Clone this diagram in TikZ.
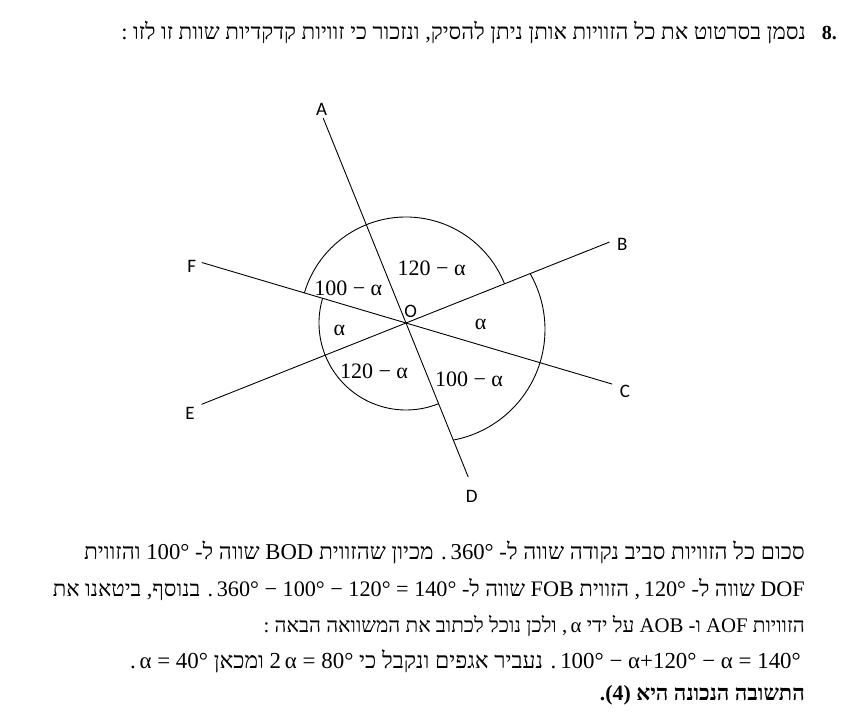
\documentclass[tikz,border=0pt]{standalone}
\usepackage{fontspec}
\usetikzlibrary{calc}
\setmainfont{Liberation Serif}
\newfontfamily\heb[Script=Hebrew]{Liberation Serif}
\newfontfamily\latf{Liberation Serif}
\newfontfamily\lblf{Carlito}
\TeXXeTstate=1
\newcommand\myL[1]{\beginL{\latf #1}\endL}
\begin{document}
\begin{tikzpicture}[x=1pt,y=1pt,
  ptlabel/.style={font=\lblf\fontsize{19}{22}\selectfont, inner sep=0pt},
  anglabel/.style={font=\latf\fontsize{22}{26}\selectfont, inner sep=0pt},
  txtline/.style={anchor=base east, inner sep=0pt},
  geomline/.style={line width=0.9pt},
  arcline/.style={line width=0.9pt}]
\useasboundingbox (0,0) rectangle (867,-712);
\fill[white] (0,0) rectangle (867,-712);

% title
\node[anchor=base east, inner sep=0pt, font=\latf\bfseries\fontsize{20}{24}\selectfont] (num) at (837,-39) {8.};
\node[txtline, font=\heb\fontsize{22.4}{26}\selectfont] (title) at (806,-39) {\beginR נסמן בסרטוט את כל הזוויות אותן ניתן להסיק, ונזכור כי זוויות קדקדיות שוות זו לזו :\endR};

% geometry
\coordinate (O) at (406,-323);
\coordinate (A) at ($(O)+(112:221)$);
\coordinate (D) at ($(O)+(-68:166)$);
\coordinate (B) at ($(O)+(21.7:219)$);
\coordinate (E) at ($(O)+(201.7:220)$);
\coordinate (F) at ($(O)+(163.5:213)$);
\coordinate (C) at ($(O)+(-16.5:215)$);
\coordinate (Q) at (432.5,-329.5);

\draw[geomline] (A) -- (D);
\draw[geomline] (B) -- (E);
\draw[geomline] (F) -- (C);

\draw[arcline] (O) ++(163.5:106) arc[start angle=163.5, end angle=21.7, radius=106];
\draw[arcline] (O) ++(163.5:87) arc[start angle=163.5, end angle=292, radius=87];
\draw[arcline] (Q) ++(29.8:112.5) arc[start angle=29.8, end angle=-79.35, radius=112.5];

% point labels
\node[ptlabel] (lA) at (321.7,-109) {A};
\node[ptlabel] (lB) at (622.3,-244) {B};
\node[ptlabel] (lC) at (625,-391.7) {C};
\node[ptlabel] (lD) at (471.7,-496.7) {D};
\node[ptlabel] (lE) at (190,-413.3) {E};
\node[ptlabel] (lF) at (191.7,-266) {F};
\node[ptlabel] (lO) at (410.7,-311.7) {O};

% angle labels
\node[anglabel] (a1) at (431.7,-268.3) {120 − α};
\node[anglabel] (a2) at (348.3,-288.3) {100 − α};
\node[anglabel] (a3) at (339.3,-330) {α};
\node[anglabel] (a4) at (480.7,-324.3) {α};
\node[anglabel] (a5) at (374,-371) {120 − α};
\node[anglabel] (a6) at (469,-379) {100 − α};

% solution text
\node[txtline, font=\heb\fontsize{22.7}{26}\selectfont] (t1) at (805,-559) {\beginR סכום כל הזוויות סביב נקודה שווה ל- \myL{360°}\,. מכיון שהזווית \myL{BOD} שווה ל- \myL{100°} והזווית\endR};
\node[txtline, font=\heb\fontsize{22.2}{26}\selectfont] (t2) at (805,-596) {\beginR \myL{DOF} שווה ל- \myL{120°}\,, הזווית \myL{FOB} שווה ל- \myL{360° − 100° − 120° = 140°}\,. בנוסף, ביטאנו את\endR};
\node[txtline, font=\heb\fontsize{20.8}{26}\selectfont] (t3) at (805,-632) {\beginR הזוויות \myL{AOF} ו- \myL{AOB} על ידי \myL{α}\,, ולכן נוכל לכתוב את המשוואה הבאה :\endR};
\node[txtline, font=\heb\fontsize{22.9}{26}\selectfont] (t4) at (801,-668) {\beginR \myL{100° − α+120° − α = 140°}\,. נעביר אגפים ונקבל כי \myL{2\,α = 80°} ומכאן \myL{α = 40°}\,.\endR};
\node[txtline, font=\heb\bfseries\fontsize{21.8}{24}\selectfont] (t5) at (805,-700) {\beginR התשובה הנכונה היא \myL{(4)}.\endR};
\end{tikzpicture}
\end{document}
